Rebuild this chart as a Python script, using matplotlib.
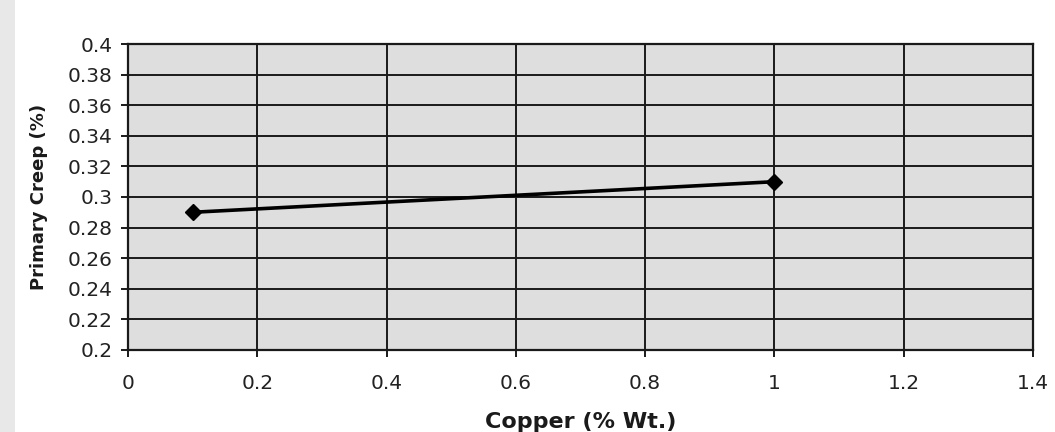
import matplotlib

matplotlib.use("Agg")
import matplotlib.pyplot as plt
from matplotlib.patches import Rectangle

# data
copper_wt = [0.1, 1.0]
primary_creep = [0.29, 0.31]

x_ticks = [0, 0.2, 0.4, 0.6, 0.8, 1, 1.2, 1.4]
y_ticks = [0.2, 0.22, 0.24, 0.26, 0.28, 0.3, 0.32, 0.34, 0.36, 0.38, 0.4]

plt.rcParams["font.family"] = ["DejaVu Sans"]

fig = plt.figure(figsize=(10.55, 4.32), dpi=100, facecolor="white")
# grey scanner edge on the left
fig.patches.append(Rectangle((0, 0), 0.014, 1, transform=fig.transFigure,
                             facecolor="#e8e8e8", edgecolor="none", zorder=0))

ax = fig.add_axes([0.1213, 0.190, 0.8577, 0.708])
ax.set_facecolor("#dedede")

ax.plot(copper_wt, primary_creep, color="black", linewidth=2.6,
        marker="D", markersize=8, markerfacecolor="black", zorder=3)

ax.set_xlim(0, 1.4)
ax.set_ylim(0.2, 0.4)
ax.set_xticks(x_ticks)
ax.set_yticks(y_ticks)
ax.set_xticklabels([f"{v:g}" for v in x_ticks])
ax.set_yticklabels([f"{v:g}" for v in y_ticks])
ax.grid(True, color="#1a1a1a", linewidth=1.4)
ax.set_axisbelow(True)
for spine in ax.spines.values():
    spine.set_color("#1a1a1a")
    spine.set_linewidth(1.6)

ax.tick_params(axis="both", colors="#1a1a1a", labelcolor="#222222",
               labelsize=14.5, length=5, width=1.4, direction="out")
ax.tick_params(axis="x", pad=12)
ax.tick_params(axis="y", pad=6)

ax.set_xlabel("Copper (% Wt.)", fontsize=16, fontweight="bold", color="#1a1a1a", labelpad=14)
ax.set_ylabel("Primary Creep (%)", fontsize=13, fontweight="bold", color="#1a1a1a", labelpad=14)

fig.savefig("out.png", dpi=100, facecolor="white")
